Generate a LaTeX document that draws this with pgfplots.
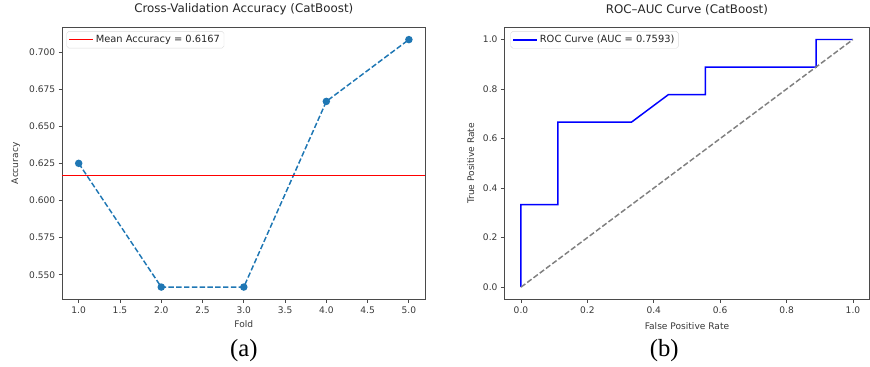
\documentclass[border=0pt]{standalone}
\usepackage{pgfplots}
\pgfplotsset{compat=1.18}
\usepackage{fontspec}
\setmainfont{DejaVu Sans}
\newfontfamily\capfont{Liberation Serif}
\definecolor{tabblue}{HTML}{1F77B4}
\definecolor{spine}{HTML}{4A4A4A}

\pgfplotsset{mpl/.style={
  scale only axis, anchor=south west,
  axis line style={spine, line width=0.9pt},
  tick align=outside, xtick pos=bottom, ytick pos=left,
  major tick length=3.5pt,
  every tick/.style={spine, line width=0.8pt},
  tick label style={font=\fontsize{9.2}{10}\selectfont, text=black!78},
  label style={font=\fontsize{9.2}{10}\selectfont, text=black!78},
  title style={font=\fontsize{12}{14}\selectfont, text=black!85, at={(axis description cs:0.5,1)}, anchor=south, yshift=3pt},
  /pgf/number format/assume math mode=true,
  legend style={font=\fontsize{10}{12}\selectfont, draw=black!15, rounded corners=2pt, inner sep=2pt, text=black!85, anchor=north west},
  legend cell align=left,
  legend image code/.code={\draw[##1] (0pt,0pt) -- (24pt,0pt);},
}}

\begin{document}
\begin{tikzpicture}
\begin{axis}[mpl, at={(63pt,68pt)}, width=368pt, height=276pt,
  xmin=0.8, xmax=5.2, ymin=0.5333, ymax=0.7167,
  xtick={1,1.5,2,2.5,3,3.5,4,4.5,5},
  ytick={0.55,0.575,0.6,0.625,0.65,0.675,0.7},
  xticklabel style={/pgf/number format/.cd, fixed, fixed zerofill, precision=1},
  yticklabel style={/pgf/number format/.cd, fixed, fixed zerofill, precision=3},
  title={Cross-Validation Accuracy (CatBoost)},
  xlabel={Fold}, ylabel={Accuracy},
  xlabel style={at={(axis description cs:0.5,-0.09)}, anchor=center},
  ylabel style={at={(axis description cs:-0.128,0.5)}, anchor=center},
  legend style={at={(0.012,0.985)}},
]
\addplot[tabblue, line width=1.5pt, dash pattern=on 5.5pt off 2.4pt, mark=*, mark size=3pt, mark options={solid, fill=tabblue, draw=tabblue}, forget plot]
  coordinates {(1,0.625) (2,0.5417) (3,0.5417) (4,0.6667) (5,0.7083)};
\addplot[red, line width=1.5pt] coordinates {(0.8,0.6167) (5.2,0.6167)};
\addlegendentry{Mean Accuracy = 0.6167}
\end{axis}

\begin{axis}[mpl, at={(511pt,68pt)}, width=370pt, height=276pt,
  xmin=-0.05, xmax=1.05, ymin=-0.05, ymax=1.05,
  xtick={0,0.2,0.4,0.6,0.8,1},
  ytick={0,0.2,0.4,0.6,0.8,1},
  xticklabel style={/pgf/number format/.cd, fixed, fixed zerofill, precision=1},
  yticklabel style={/pgf/number format/.cd, fixed, fixed zerofill, precision=1},
  title={ROC–AUC Curve (CatBoost)},
  xlabel={False Positive Rate}, ylabel={True Positive Rate},
  xlabel style={at={(axis description cs:0.5,-0.098)}, anchor=center},
  ylabel style={at={(axis description cs:-0.092,0.5)}, anchor=center},
  legend style={at={(0.017,0.985)}},
]
\addplot[blue, line width=1.5pt] coordinates {
  (0,0) (0,0.3333) (0.1111,0.3333) (0.1111,0.6667) (0.3333,0.6667)
  (0.4444,0.7778) (0.5556,0.7778) (0.5556,0.8889) (0.8889,0.8889)
  (0.8889,1) (1,1)};
\addlegendentry{ROC Curve (AUC = 0.7593)}
\addplot[gray, line width=1.5pt, dash pattern=on 5.5pt off 2.4pt, forget plot] coordinates {(0,0) (1,1)};
\end{axis}

\node[font=\capfont\fontsize{25}{28}\selectfont] at (247pt,16pt) {(a)};
\node[font=\capfont\fontsize{25}{28}\selectfont] at (673pt,16pt) {(b)};
\path[use as bounding box] (0,0) rectangle (870pt,366pt);
\end{tikzpicture}
\end{document}
